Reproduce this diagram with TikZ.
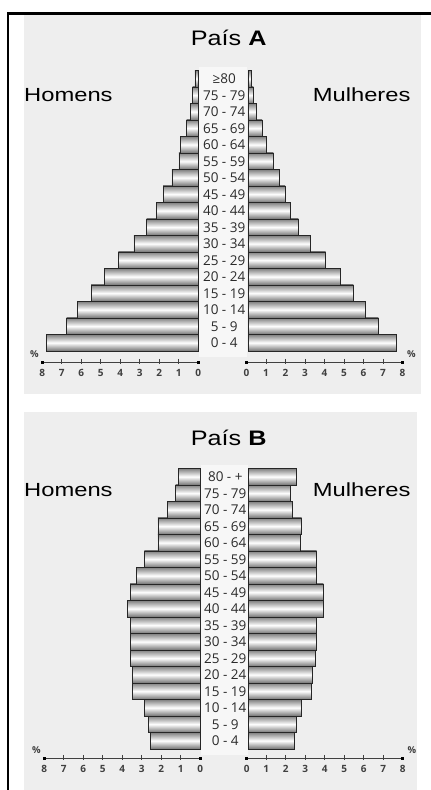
\documentclass[tikz,border=0pt]{standalone}
\usepackage{fontspec}
\setmainfont{Liberation Sans}
\newfontfamily\agefont{Open Sans}
\definecolor{panelbg}{HTML}{EEEEEE}
\definecolor{colbg}{HTML}{F7F7F7}
\definecolor{labgray}{HTML}{2A2A2A}
\tikzset{
  bar/.style={draw=black!85, line width=0.6pt, top color=black!50, bottom color=black!55, middle color=white},
  agelab/.style={inner sep=0pt, text=labgray, font=\agefont\fontsize{13.5}{13.5}\selectfont},
  ticklab/.style={inner sep=0pt, text=black!75, font=\agefont\bfseries\fontsize{10}{10}\selectfont},
  pctlab/.style={inner sep=0pt, text=black!75, font=\agefont\bfseries\fontsize{9.5}{9.5}\selectfont},
  axisline/.style={draw=black!75, line width=0.8pt},
  titlelab/.style={inner sep=0pt, font=\fontsize{21}{21}\selectfont},
  sidelab/.style={inner sep=0pt, font=\fontsize{19}{19}\selectfont},
}
% #1 prefix, #2 y of bottom row centre, #3 left zero x, #4 right zero x,
% #5 left widths, #6 right widths, #7 labels, #8 axis y
\newcommand\pyrpanel[8]{%
  \pgfmathsetmacro\pyrtop{#2-16.5*16-8.25}%
  \fill[colbg] ({#3+0.7},{\pyrtop-3}) rectangle ({#4-0.7},{#2+8.25+6});
  \foreach \w [count=\i from 0] in {#5}{
    \pgfmathsetmacro\yc{#2-16.5*\i}
    \shade[bar] ({#3-19.5*\w},{\yc-8.25}) rectangle (#3,{\yc+8.25});
  }
  \foreach \w [count=\i from 0] in {#6}{
    \pgfmathsetmacro\yc{#2-16.5*\i}
    \shade[bar] (#4,{\yc-8.25}) rectangle ({#4+19.5*\w},{\yc+8.25});
  }
  \foreach \l [count=\i from 0] in {#7}{
    \pgfmathsetmacro\yc{#2-16.5*\i}
    \node[agelab] (#1age\i) at ({(#3+#4)/2+1},\yc) {\l};
  }
  % left axis
  \draw[axisline] ({#3-156},#8) -- (#3,#8);
  \foreach \k in {1,...,7}{
    \draw[axisline] ({#3-19.5*\k},{#8-3.5}) -- ({#3-19.5*\k},{#8+2});
  }
  \foreach \k in {0,...,8}{
    \node[ticklab] (#1Lt\k) at ({#3-19.5*\k},{#8+11}) {\k};
  }
  \fill[black] ({#3-156-1.6},{#8-1.6}) rectangle ({#3-156+1.6},{#8+1.6});
  \fill[black] ({#3-1.6},{#8-1.6}) rectangle ({#3+1.6},{#8+1.6});
  \node[pctlab] (#1Lpct) at ({#3-164},{#8-8}) {\%};
  % right axis
  \draw[axisline] ({#4-1.5},#8) -- ({#4-1.5+156},#8);
  \foreach \k in {1,...,7}{
    \draw[axisline] ({#4-1.5+19.5*\k},{#8-3.5}) -- ({#4-1.5+19.5*\k},{#8+2});
  }
  \foreach \k in {0,...,8}{
    \node[ticklab] (#1Rt\k) at ({#4-1.5+19.5*\k},{#8+11}) {\k};
  }
  \fill[black] ({#4-1.5-1.6},{#8-1.6}) rectangle ({#4-1.5+1.6},{#8+1.6});
  \fill[black] ({#4-1.5+156-1.6},{#8-1.6}) rectangle ({#4-1.5+156+1.6},{#8+1.6});
  \node[pctlab] (#1Rpct) at ({#4-1.5+165},{#8-8}) {\%};
}
\begin{document}
\begin{tikzpicture}[x=1pt,y=-1pt]
\useasboundingbox (0,0) rectangle (431,790);
\fill[white] (0,0) rectangle (431,790);
% panel backgrounds
\fill[panelbg] (24,15) rectangle (420.7,394.3);
\fill[panelbg] (24,412.3) rectangle (417.3,790);
% outer frame
\draw[line width=2.6pt, line join=miter] (7.8,790) -- (7.8,13.5) -- (431,13.5);

% ---------- Panel A ----------
\node[titlelab] (titleA) at (228.7,38) {\scalebox{1.2}[1]{País \textbf{A}}};
\node[sidelab, anchor=west] (homA) at (24,95) {\scalebox{1.25}[1]{Homens}};
\node[sidelab, anchor=east] (mulA) at (410.7,95) {\scalebox{1.25}[1]{Mulheres}};
\pyrpanel{A}{342.7}{198.3}{248}
  {7.8,6.75,6.2,5.5,4.8,4.1,3.3,2.65,2.15,1.8,1.35,1.0,0.9,0.6,0.39,0.29,0.17}
  {7.63,6.68,6.0,5.4,4.75,3.98,3.18,2.58,2.19,1.9,1.6,1.3,0.96,0.72,0.44,0.28,0.18}
  {0 - 4,5 - 9,10 - 14,15 - 19,20 - 24,25 - 29,30 - 34,35 - 39,40 - 44,45 - 49,50 - 54,55 - 59,60 - 64,65 - 69,70 - 74,75 - 79,≥80}
  {362.3}

% ---------- Panel B ----------
\node[titlelab] (titleB) at (228.7,438.3) {\scalebox{1.2}[1]{País \textbf{B}}};
\node[sidelab, anchor=west] (homB) at (24,490) {\scalebox{1.25}[1]{Homens}};
\node[sidelab, anchor=east] (mulB) at (410.7,490) {\scalebox{1.25}[1]{Mulheres}};
\pyrpanel{B}{740.7}{200.3}{248.3}
  {2.54,2.65,2.87,3.47,3.47,3.57,3.6,3.6,3.74,3.6,3.26,2.87,2.17,2.17,1.69,1.26,1.13}
  {2.34,2.45,2.74,3.25,3.3,3.42,3.51,3.51,3.85,3.85,3.51,3.51,2.69,2.74,2.26,2.14,2.45}
  {0 - 4,5 - 9,10 - 14,15 - 19,20 - 24,25 - 29,30 - 34,35 - 39,40 - 44,45 - 49,50 - 54,55 - 59,60 - 64,65 - 69,70 - 74,75 - 79,80 - +}
  {758.3}
\end{tikzpicture}
\end{document}
